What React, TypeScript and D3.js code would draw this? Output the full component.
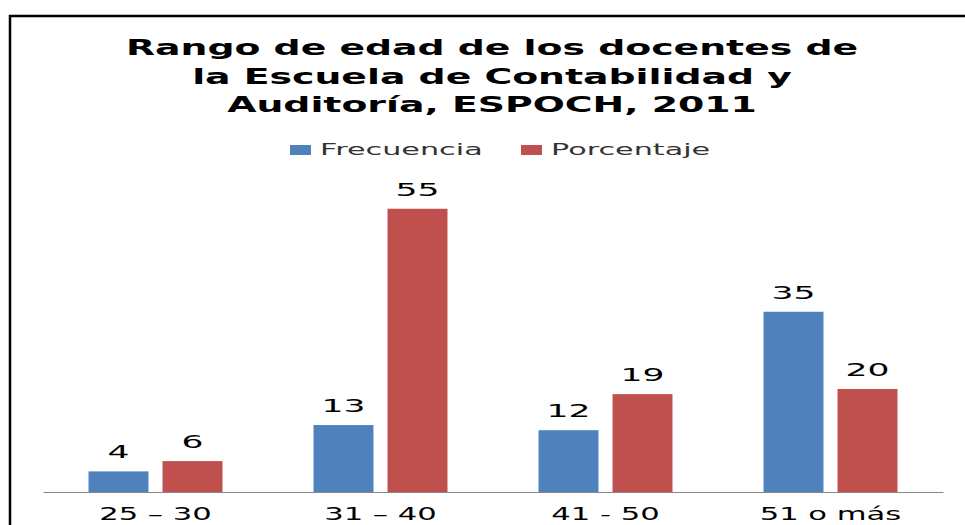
import * as d3 from "d3";
import { useEffect, useRef } from "react";

const titleLines = [
  "Rango de edad de los docentes de",
  "la Escuela de Contabilidad y",
  "Auditoría, ESPOCH, 2011",
];
const categories = ["25 – 30", "31 – 40", "41 - 50", "51 o más"];
const seriesNames = ["Frecuencia", "Porcentaje"];
const frecuencia = [4, 13, 12, 35];
const porcentaje = [6, 55, 19, 20];
const colors = ["#4F81BD", "#C0504D"];

const App = () => {
  const ref = useRef<SVGSVGElement>(null);

  useEffect(() => {
    const width = 965,
      height = 525;
    const svg = d3.select(ref.current);
    svg.selectAll("*").remove();

    const font = "'DejaVu Sans', Verdana, sans-serif";

    // frame (top and left edges only, right and bottom are cut off)
    svg
      .append("path")
      .attr("d", `M10,${height} L10,16 L${width},16`)
      .attr("fill", "none")
      .attr("stroke", "#000")
      .attr("stroke-width", 2.5);

    // helper for horizontally stretched text
    const addText = (
      x: number,
      y: number,
      txt: string,
      size: number,
      opts: { weight?: string; fill?: string; anchor?: string; sx?: number } = {}
    ) => {
      svg
        .append("g")
        .attr("transform", `translate(${x},${y}) scale(${opts.sx ?? 1.7},1)`)
        .append("text")
        .attr("text-anchor", opts.anchor ?? "middle")
        .attr("font-family", font)
        .attr("font-size", size)
        .attr("font-weight", opts.weight ?? "normal")
        .attr("fill", opts.fill ?? "#000")
        .text(txt);
    };

    // title
    titleLines.forEach((line, i) => {
      addText(492, 55 + i * 28.5, line, 21, { weight: "bold", sx: 1.8 });
    });

    // legend
    const legendX = [290, 521];
    seriesNames.forEach((name, i) => {
      svg
        .append("rect")
        .attr("x", legendX[i])
        .attr("y", 145)
        .attr("width", 21)
        .attr("height", 10)
        .attr("fill", colors[i]);
      addText(legendX[i] + 30, 155, name, 16, { anchor: "start", fill: "#333", sx: 1.89 });
    });

    // scales
    const x0 = d3.scaleBand().domain(categories).range([43, 943]);
    const x1 = d3
      .scaleBand()
      .domain(seriesNames)
      .range([0, x0.bandwidth()])
      .paddingInner(0.19)
      .paddingOuter(0.615);
    const y = d3.scaleLinear().domain([0, 60]).range([492, 183]);

    const values = [frecuencia, porcentaje];

    seriesNames.forEach((name, s) => {
      const g = svg.append("g");
      g.selectAll("rect")
        .data(categories)
        .join("rect")
        .attr("x", (c) => x0(c)! + x1(name)!)
        .attr("y", (_, i) => y(values[s][i]))
        .attr("width", x1.bandwidth())
        .attr("height", (_, i) => y(0) - y(values[s][i]))
        .attr("fill", colors[s]);

      categories.forEach((c, i) => {
        addText(
          x0(c)! + x1(name)! + x1.bandwidth() / 2,
          y(values[s][i]) - 13,
          String(values[s][i]),
          18,
          { sx: 1.92 }
        );
      });
    });

    // baseline axis
    const axis = svg
      .append("g")
      .attr("transform", `translate(0,${y(0)})`)
      .call(d3.axisBottom(x0).tickSize(0).tickFormat(() => ""));
    axis.select(".domain").attr("stroke", "#868686").attr("stroke-width", 1.2);

    categories.forEach((c) => {
      addText(x0(c)! + x0.bandwidth() / 2, 520, c, 18, { sx: 1.7 });
    });
  }, []);

  return (
    <svg
      ref={ref}
      width={965}
      height={525}
      style={{ position: "absolute", left: 0, top: 0, background: "#fff" }}
    />
  );
};

export default App;
